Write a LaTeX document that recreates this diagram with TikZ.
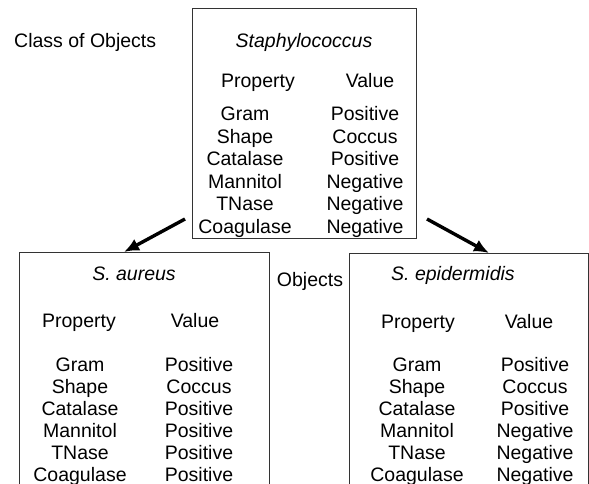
\documentclass[tikz,border=0pt]{standalone}
\usepackage{fontspec}
\setmainfont{Liberation Sans}
\usepackage{tikz}
\usetikzlibrary{arrows.meta,positioning,calc}

\tikzset{
    txt/.style={anchor=base, inner sep=0pt, font=\fontsize{19.5}{23}\selectfont},
    ttl/.style={txt, font=\fontsize{19.5}{23}\selectfont\itshape},
    frame/.style={draw=black!80, line width=0.9pt},
    bigarrow/.style={line width=3.4pt, -{Latex[length=15pt,width=13pt]}}
}

\begin{document}
\begin{tikzpicture}[x=1pt,y=-1pt]
    \useasboundingbox (0,0) rectangle (589,484);
    \begin{scope}
    \clip (0,0) rectangle (589,484);
    % Boxes
    \draw[frame] (192,8) rectangle (416,238);
    \draw[frame] (19,252) rectangle (269,500);
    \draw[frame] (349,253) rectangle (588,500);
    \end{scope}

    % Labels
    \node[txt, anchor=base west] (cls) at (14,48) {Class of Objects};
    \node[txt] (obj) at (310,286) {Objects};

    % Class box
    \node[ttl] (staph) at (304,48) {Staphylococcus};
    \node[txt] (tprop) at (258,88) {Property}; \node[txt] (tval) at (370,88) {Value};
    \foreach \p/\v [count=\i from 0] in {Gram/Positive,Shape/Coccus,Catalase/Positive,Mannitol/Negative,TNase/Negative,Coagulase/Negative}
        {\node[txt] (tp\i) at (245,121+22.4*\i) {\p}; \node[txt] (tv\i) at (365,121+22.4*\i) {\v};}

    % S. aureus
    \node[ttl] (aur) at (134,280) {S.\ aureus};
    \node[txt] (aprop) at (79,327) {Property}; \node[txt] (aval) at (195,327) {Value};
    \foreach \p/\v [count=\i from 0] in {Gram/Positive,Shape/Coccus,Catalase/Positive,Mannitol/Positive,TNase/Positive,Coagulase/Positive}
        {\node[txt] (ap\i) at (80,371+22*\i) {\p}; \node[txt] (av\i) at (199,371+22*\i) {\v};}

    % S. epidermidis
    \node[ttl] (epi) at (453,280) {S.\ epidermidis};
    \node[txt] (eprop) at (418,328) {Property}; \node[txt] (eval) at (529,328) {Value};
    \foreach \p/\v [count=\i from 0] in {Gram/Positive,Shape/Coccus,Catalase/Positive,Mannitol/Negative,TNase/Negative,Coagulase/Negative}
        {\node[txt] (ep\i) at (417,371+22*\i) {\p}; \node[txt] (ev\i) at (535,371+22*\i) {\v};}

    % Arrows
    \coordinate (la) at (185,219); \coordinate (lt) at (124,252);
    \coordinate (ra) at (427,219); \coordinate (rt) at (489,253);
    \draw[bigarrow] (la) -- (lt);
    \draw[bigarrow] (ra) -- (rt);
\end{tikzpicture}
\end{document}
